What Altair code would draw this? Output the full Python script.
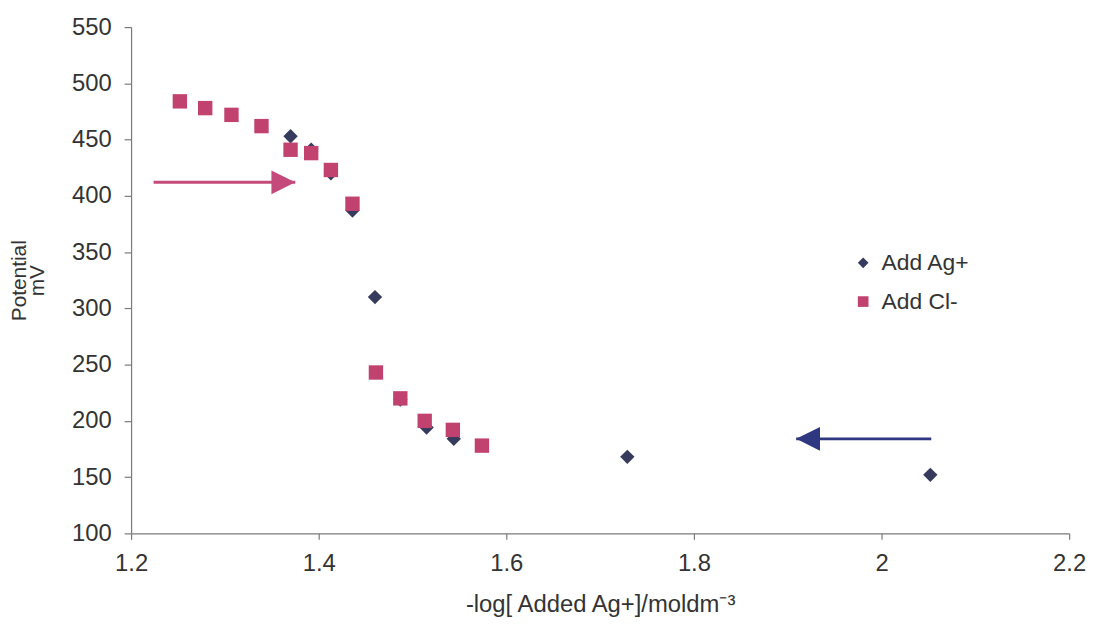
import altair as alt
import pandas as pd

# ---- data ----
series_names = ["Add Ag+", "Add Cl-"]

ag_x = [1.370, 1.392, 1.413, 1.436, 1.460, 1.487, 1.515, 1.544, 1.729, 2.052]
ag_y = [453, 441, 420, 387, 310, 219, 194, 184, 168, 152]

cl_x = [1.252, 1.279, 1.307, 1.339, 1.370, 1.392, 1.413, 1.436, 1.461, 1.487, 1.513, 1.543, 1.574]
cl_y = [484, 478, 472, 462, 441, 438, 423, 393, 243, 220, 200, 192, 178]

x_ticks = [1.2, 1.4, 1.6, 1.8, 2.0, 2.2]
y_ticks = [100, 150, 200, 250, 300, 350, 400, 450, 500, 550]

# annotation arrows (data units)
arrow_names = ["cl_arrow", "ag_arrow"]
arrow_start_x = [1.224, 2.053]
arrow_tip_x = [1.375, 1.909]
arrow_y = [412, 184]

# ---- styles ----
NAVY = "#363b5e"
PINK = "#c2426f"
PINK_ARROW = "#c44a7c"
BLUE_ARROW = "#2f3780"
FONT = "Liberation Sans"

points = pd.DataFrame({
    "x": ag_x + cl_x,
    "y": ag_y + cl_y,
    "series": [series_names[0]] * len(ag_x) + [series_names[1]] * len(cl_x),
})
arrows = pd.DataFrame({"name": arrow_names, "x0": arrow_start_x, "x1": arrow_tip_x, "y": arrow_y})

xscale = alt.Scale(domain=[1.2, 2.2], nice=False, zero=False)
yscale = alt.Scale(domain=[100, 550], nice=False, zero=False)

x_axis = alt.Axis(
    values=x_ticks, format="~g", title="-log[ Added Ag+]/moldm\u207b\u00b3",
    tickSize=6, labelPadding=12, labelFlush=False,
    titleFontSize=24, titlePadding=18,
)
y_axis = alt.Axis(
    values=y_ticks, title=["Potential", "mV"],
    tickSize=7, labelPadding=13,
    titleFontSize=21, titleLineHeight=18, titlePadding=24,
)

legend = alt.Legend(
    title=None, orient="none", legendX=726, legendY=226,
    labelFontSize=23, labelFont=FONT, labelColor="#333333",
    symbolSize=115, rowPadding=15, labelOffset=7, padding=0,
    symbolStrokeWidth=0,
)

pts = alt.Chart(points).mark_point(filled=True, size=210, opacity=1, strokeWidth=0).encode(
    x=alt.X("x:Q", scale=xscale, axis=x_axis),
    y=alt.Y("y:Q", scale=yscale, axis=y_axis),
    color=alt.Color("series:N", scale=alt.Scale(domain=series_names, range=[NAVY, PINK]), legend=legend),
    shape=alt.Shape("series:N", scale=alt.Scale(domain=series_names, range=["diamond", "square"]), legend=legend),
)


def arrow(name, color, head_path):
    base = alt.Chart(arrows).transform_filter(alt.datum.name == name)
    line = base.mark_rule(color=color, strokeWidth=3).encode(
        x=alt.X("x0:Q", scale=xscale, axis=x_axis),
        x2="x1:Q",
        y=alt.Y("y:Q", scale=yscale, axis=y_axis),
    )
    head = base.mark_point(shape=head_path, filled=True, size=576, color=color, opacity=1, strokeWidth=0).encode(
        x=alt.X("x1:Q", scale=xscale, axis=x_axis),
        y=alt.Y("y:Q", scale=yscale, axis=y_axis),
    )
    return line + head


chart = alt.layer(
    pts,
    arrow("cl_arrow", PINK_ARROW, "M0,0 L-2,-1 L-2,1 Z"),
    arrow("ag_arrow", BLUE_ARROW, "M0,0 L2,-1 L2,1 Z"),
).properties(
    width=945, height=510,
    autosize=alt.AutoSizeParams(type="none"),
    padding={"left": 124, "top": 17, "right": 21, "bottom": 82},
    background="white",
).configure_view(strokeOpacity=0).configure_axis(
    grid=False,
    domainColor="#7a7a7a", tickColor="#7a7a7a", domainWidth=1.2, tickWidth=1.2,
    labelFont=FONT, labelFontSize=24, labelColor="#333333",
    titleFont=FONT, titleFontWeight="normal", titleColor="#333333",
)

chart.save("out.html", embed_options={"renderer": "svg", "actions": False})
